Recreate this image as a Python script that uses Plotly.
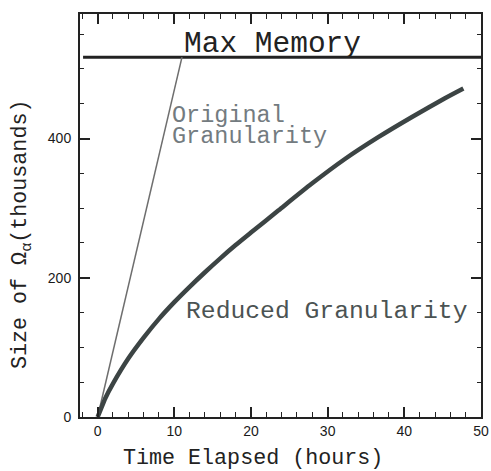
import plotly.graph_objects as go

# Data
reduced_x = [0, 0.3, 1, 2, 4, 6, 8, 10, 12, 14, 16, 18, 20, 23.6, 27.9, 32.3, 36.6, 41.0, 45.3, 47.7]
reduced_y = [0, 8, 27, 48, 84, 114, 141, 165, 187, 208, 228, 247, 265, 297, 335, 371, 402, 431, 458, 472]
original_x = [0, 11.0]
original_y = [0, 517]
max_memory_x = [-1.9, 50]
max_memory_y = [517, 517]
x_ticks = [0, 10, 20, 30, 40, 50]
y_ticks = [0, 200, 400]

SERIF_MONO = "Liberation Mono"

fig = go.Figure()
fig.add_trace(go.Scatter(x=max_memory_x, y=max_memory_y, mode="lines",
                         line=dict(color="#222222", width=3), hoverinfo="skip"))
fig.add_trace(go.Scatter(x=original_x, y=original_y, mode="lines",
                         line=dict(color="#6e6e6e", width=1.5), hoverinfo="skip"))
fig.add_trace(go.Scatter(x=reduced_x, y=reduced_y, mode="lines",
                         line=dict(color="#3c4444", width=4.5, shape="spline", smoothing=0.6),
                         hoverinfo="skip"))

axis_common = dict(
    showline=True, linewidth=2, linecolor="#222222", mirror="allticks",
    ticks="inside", ticklen=10, tickwidth=1.5, tickcolor="#222222",
    showgrid=False, zeroline=False, automargin=False,
    tickfont=dict(family="Liberation Sans", size=14, color="#1a1a1a"),
)

fig.update_layout(
    width=491, height=471,
    margin=dict(l=80, r=10, t=14, b=54, autoexpand=False),
    paper_bgcolor="white", plot_bgcolor="white",
    showlegend=False,
    xaxis=dict(range=[-2.3, 50], tickvals=x_ticks,
               minor=dict(ticks="inside", dtick=2, tick0=0, ticklen=5, tickwidth=1, tickcolor="#222222"),
               **axis_common),
    yaxis=dict(range=[0, 579], tickvals=y_ticks, ticklabelstandoff=4,
               minor=dict(ticks="inside", dtick=50, tick0=0, ticklen=4, tickwidth=1, tickcolor="#222222"),
               **axis_common),
)

def ann(text, x, y, size, color, xanchor="left", **kw):
    fig.add_annotation(text=text, x=x, y=y, xref="x", yref="y", showarrow=False,
                       xanchor=xanchor, yanchor="middle",
                       font=dict(family=SERIF_MONO, size=size, color=color), **kw)

ann("Max Memory", 22.8, 536, 29.5, "#222222", xanchor="center")
ann("Original", 9.5, 433, 23.5, "#737b80")
ann("Granularity", 9.5, 403, 23.5, "#737b80")
ann("Reduced Granularity", 11.3, 152, 24.7, "#4b5353")

# Axis titles as annotations
fig.add_annotation(text="Time Elapsed (hours)", x=0.431, y=0, xref="paper", yref="paper",
                   showarrow=False, xanchor="center", yanchor="middle", yshift=-41,
                   font=dict(family=SERIF_MONO, size=21.7, color="#222222"))
fig.add_annotation(text="Size of Ω<sub>α</sub>(thousands)", x=0, y=0.4516, xref="paper", yref="paper",
                   showarrow=False, xanchor="center", yanchor="middle", xshift=-58, textangle=-90,
                   font=dict(family=SERIF_MONO, size=21.7, color="#222222"))

fig.write_html("out.html")
